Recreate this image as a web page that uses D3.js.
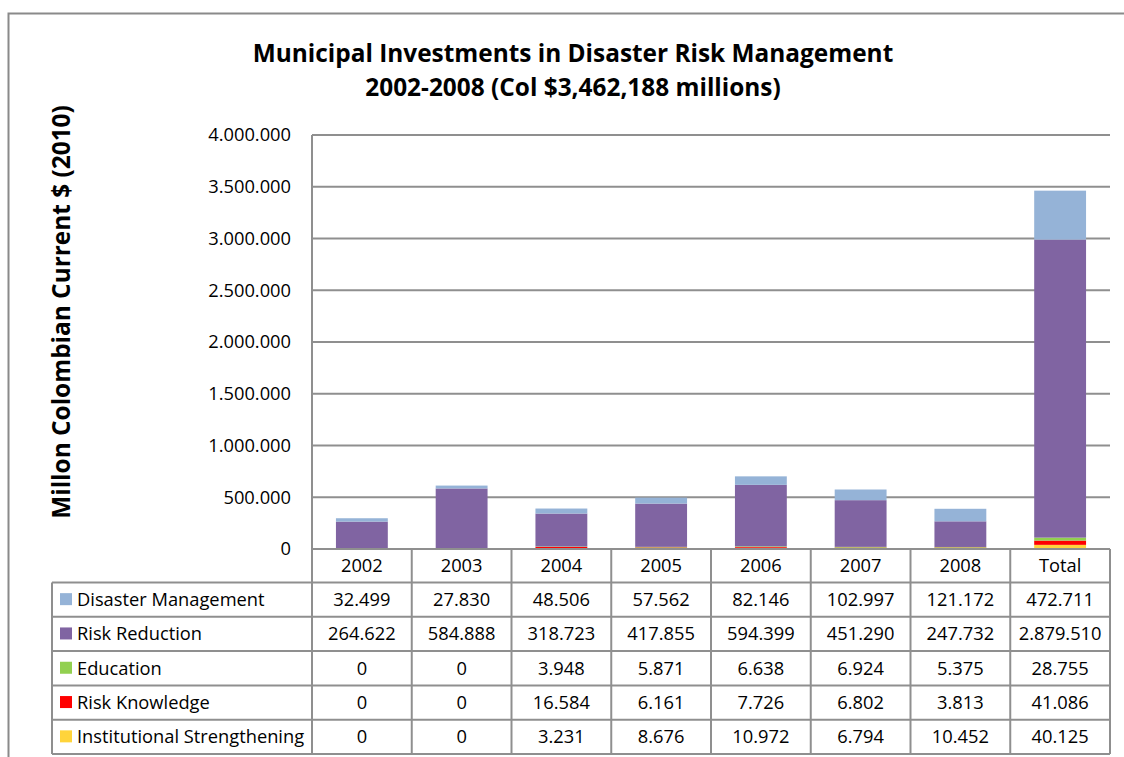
<!DOCTYPE html>
<html>
<head>
<meta charset="utf-8">
<script src="https://cdn.jsdelivr.net/npm/d3@7"></script>
<style>
  html, body { margin: 0; padding: 0; background: #fff; }
  svg { display: block; }
  text { font-family: "Open Sans", Lato, sans-serif; fill: #000; }
</style>
</head>
<body>
<svg id="chart" width="1124" height="757"></svg>
<script>
// Categories (years plus overall total)
const categories = ["2002", "2003", "2004", "2005", "2006", "2007", "2008", "Total"];

// Series, in millions of Colombian pesos
const seriesNames = ["Disaster Management", "Risk Reduction", "Education", "Risk Knowledge", "Institutional Strengthening"];
const disasterManagement = [32499, 27830, 48506, 57562, 82146, 102997, 121172, 472711];
const riskReduction = [264622, 584888, 318723, 417855, 594399, 451290, 247732, 2879510];
const education = [0, 0, 3948, 5871, 6638, 6924, 5375, 28755];
const riskKnowledge = [0, 0, 16584, 6161, 7726, 6802, 3813, 41086];
const institutionalStrengthening = [0, 0, 3231, 8676, 10972, 6794, 10452, 40125];

const seriesColors = ["#95B3D7", "#8064A2", "#92D050", "#FF0000", "#FFD43B"];
const yTicks = [0, 500000, 1000000, 1500000, 2000000, 2500000, 3000000, 3500000, 4000000];

const titleLines = ["Municipal Investments in Disaster Risk Management", "2002-2008 (Col $3,462,188 millions)"];
const yTitle = "Millon Colombian Current $ (2010)";

const seriesValues = [disasterManagement, riskReduction, education, riskKnowledge, institutionalStrengthening];

// Colombian number style: dot as thousands separator
const locale = d3.formatLocale({ decimal: ",", thousands: ".", grouping: [3], currency: ["$", ""] });
const fmt = locale.format(",d");

const svg = d3.select("#chart");
const plot = { left: 312, right: 1110, top: 135, bottom: 549 };
const tableLeft = 52;
const rowH = 34.3;
const headerBottom = 582.5;
const gridColor = "#8f8f8f";
const bodySize = 18.3;
const titleSize = 24.4;

// Outer frame
svg.append("rect")
  .attr("x", 8.5).attr("y", 13.5).attr("width", 1140).attr("height", 780)
  .attr("fill", "none").attr("stroke", "#8a8a8a").attr("stroke-width", 2);

// Scales
const x = d3.scaleBand().domain(categories).range([plot.left, plot.right]).paddingInner(0).paddingOuter(0);
const y = d3.scaleLinear().domain([0, 4000000]).range([plot.bottom, plot.top]);
const barW = x.bandwidth() * 0.52;

// Gridlines and tick labels
const yAxis = d3.axisLeft(y).tickValues(yTicks).tickFormat(fmt).tickSize(0).tickPadding(21);
const gy = svg.append("g").attr("transform", `translate(${plot.left},0)`).call(yAxis);
gy.select(".domain").remove();
gy.selectAll(".tick text").attr("font-size", bodySize).attr("font-family", "'Open Sans', sans-serif").attr("fill", "#000");
svg.append("g").selectAll("line").data(yTicks).join("line")
  .attr("x1", plot.left).attr("x2", plot.right)
  .attr("y1", d => y(d)).attr("y2", d => y(d))
  .attr("stroke", gridColor).attr("stroke-width", 2);

// Stacked bars: institutional at the base, disaster management on top
const rows = categories.map((c, i) => {
  const r = { cat: c };
  seriesNames.forEach((s, k) => r[s] = seriesValues[k][i]);
  return r;
});
const stackOrder = seriesNames.slice().reverse();
const stack = d3.stack().keys(stackOrder)(rows);
svg.append("g").selectAll("g").data(stack).join("g")
  .attr("fill", d => seriesColors[seriesNames.indexOf(d.key)])
  .selectAll("rect").data(d => d).join("rect")
  .attr("x", d => x(d.data.cat) + (x.bandwidth() - barW) / 2)
  .attr("width", barW)
  .attr("y", d => y(d[1]))
  .attr("height", d => Math.max(0, y(d[0]) - y(d[1])));

// Re-draw the zero line above the bars
svg.append("line")
  .attr("x1", plot.left).attr("x2", plot.right)
  .attr("y1", y(0)).attr("y2", y(0))
  .attr("stroke", gridColor).attr("stroke-width", 2);

// Data table
const table = svg.append("g");
const tableBottom = headerBottom + rowH * seriesNames.length;
// Horizontal rules
const hLines = d3.range(seriesNames.length + 1).map(i => headerBottom + i * rowH);
table.selectAll("line.h").data(hLines).join("line")
  .attr("class", "h")
  .attr("x1", tableLeft).attr("x2", plot.right)
  .attr("y1", d => d).attr("y2", d => d)
  .attr("stroke", gridColor).attr("stroke-width", 2);
// Vertical rules
const vLines = categories.map(c => x(c)).concat([plot.right]);
table.selectAll("line.v").data(vLines).join("line")
  .attr("class", "v")
  .attr("x1", d => d).attr("x2", d => d)
  .attr("y1", (d, i) => i === 0 ? plot.top : plot.bottom)
  .attr("y2", tableBottom)
  .attr("stroke", gridColor).attr("stroke-width", 2);
table.append("line")
  .attr("x1", tableLeft).attr("x2", tableLeft)
  .attr("y1", headerBottom).attr("y2", tableBottom)
  .attr("stroke", gridColor).attr("stroke-width", 2);

// Category header
table.selectAll("text.cat").data(categories).join("text")
  .attr("class", "cat")
  .attr("x", d => x(d) + x.bandwidth() / 2)
  .attr("y", (plot.bottom + headerBottom) / 2 + 6.5)
  .attr("text-anchor", "middle").attr("font-size", bodySize)
  .text(d => d);

// Legend cells and values
seriesNames.forEach((s, k) => {
  const top = headerBottom + k * rowH;
  const cy = top + rowH / 2;
  table.append("rect")
    .attr("x", 60).attr("y", cy - 6.5).attr("width", 12).attr("height", 12)
    .attr("fill", seriesColors[k]);
  table.append("text")
    .attr("x", 77).attr("y", cy + 6.5).attr("font-size", bodySize)
    .text(s);
  table.append("g").selectAll("text").data(seriesValues[k]).join("text")
    .attr("x", (d, i) => x(categories[i]) + x.bandwidth() / 2)
    .attr("y", cy + 6.5)
    .attr("text-anchor", "middle").attr("font-size", bodySize)
    .text(d => fmt(d));
});

// Titles
svg.append("g").selectAll("text").data(titleLines).join("text")
  .attr("x", 573).attr("y", (d, i) => 62 + i * 34)
  .attr("text-anchor", "middle").attr("font-size", titleSize).attr("font-weight", "bold")
  .text(d => d);
svg.append("text")
  .attr("transform", "translate(70,312) rotate(-90)")
  .attr("text-anchor", "middle").attr("font-size", titleSize).attr("font-weight", "bold")
  .text(yTitle);
</script>
</body>
</html>
